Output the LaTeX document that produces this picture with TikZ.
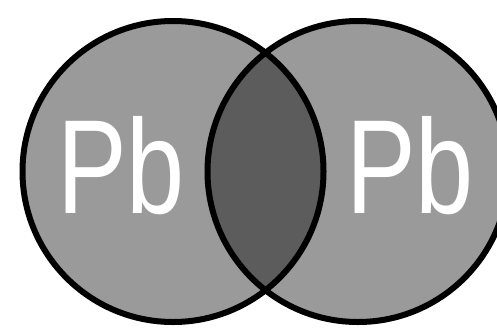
\documentclass[tikz,border=0pt]{standalone}
\usepackage{fontspec}
\setmainfont{Liberation Sans}
\definecolor{lightg}{HTML}{9A9A9A}
\definecolor{darkg}{HTML}{5C5C5C}
\tikzset{
  ring/.style={line width=6pt, draw=black},
  pbtext/.style={text=white, inner sep=0pt, font=\fontsize{134}{134}\selectfont}
}
\begin{document}
\begin{tikzpicture}[x=1pt,y=-1pt]
\useasboundingbox (0,0) rectangle (497,327);
\coordinate (L) at (173,171.5);
\coordinate (R) at (358,171.5);
\fill[lightg] (L) circle (150.5);
\fill[lightg] (R) circle (150.5);
\begin{scope}
  \clip (L) circle (150.5);
  \fill[darkg] (R) circle (150.5);
\end{scope}
\draw[ring] (L) circle (150.5);
\draw[ring] (R) circle (150.5);
\node[pbtext] (pb1) at (121,166) {\scalebox{0.78}[1]{Pb}};
\node[pbtext] (pb2) at (410,166) {\scalebox{0.78}[1]{Pb}};
\end{tikzpicture}
\end{document}
